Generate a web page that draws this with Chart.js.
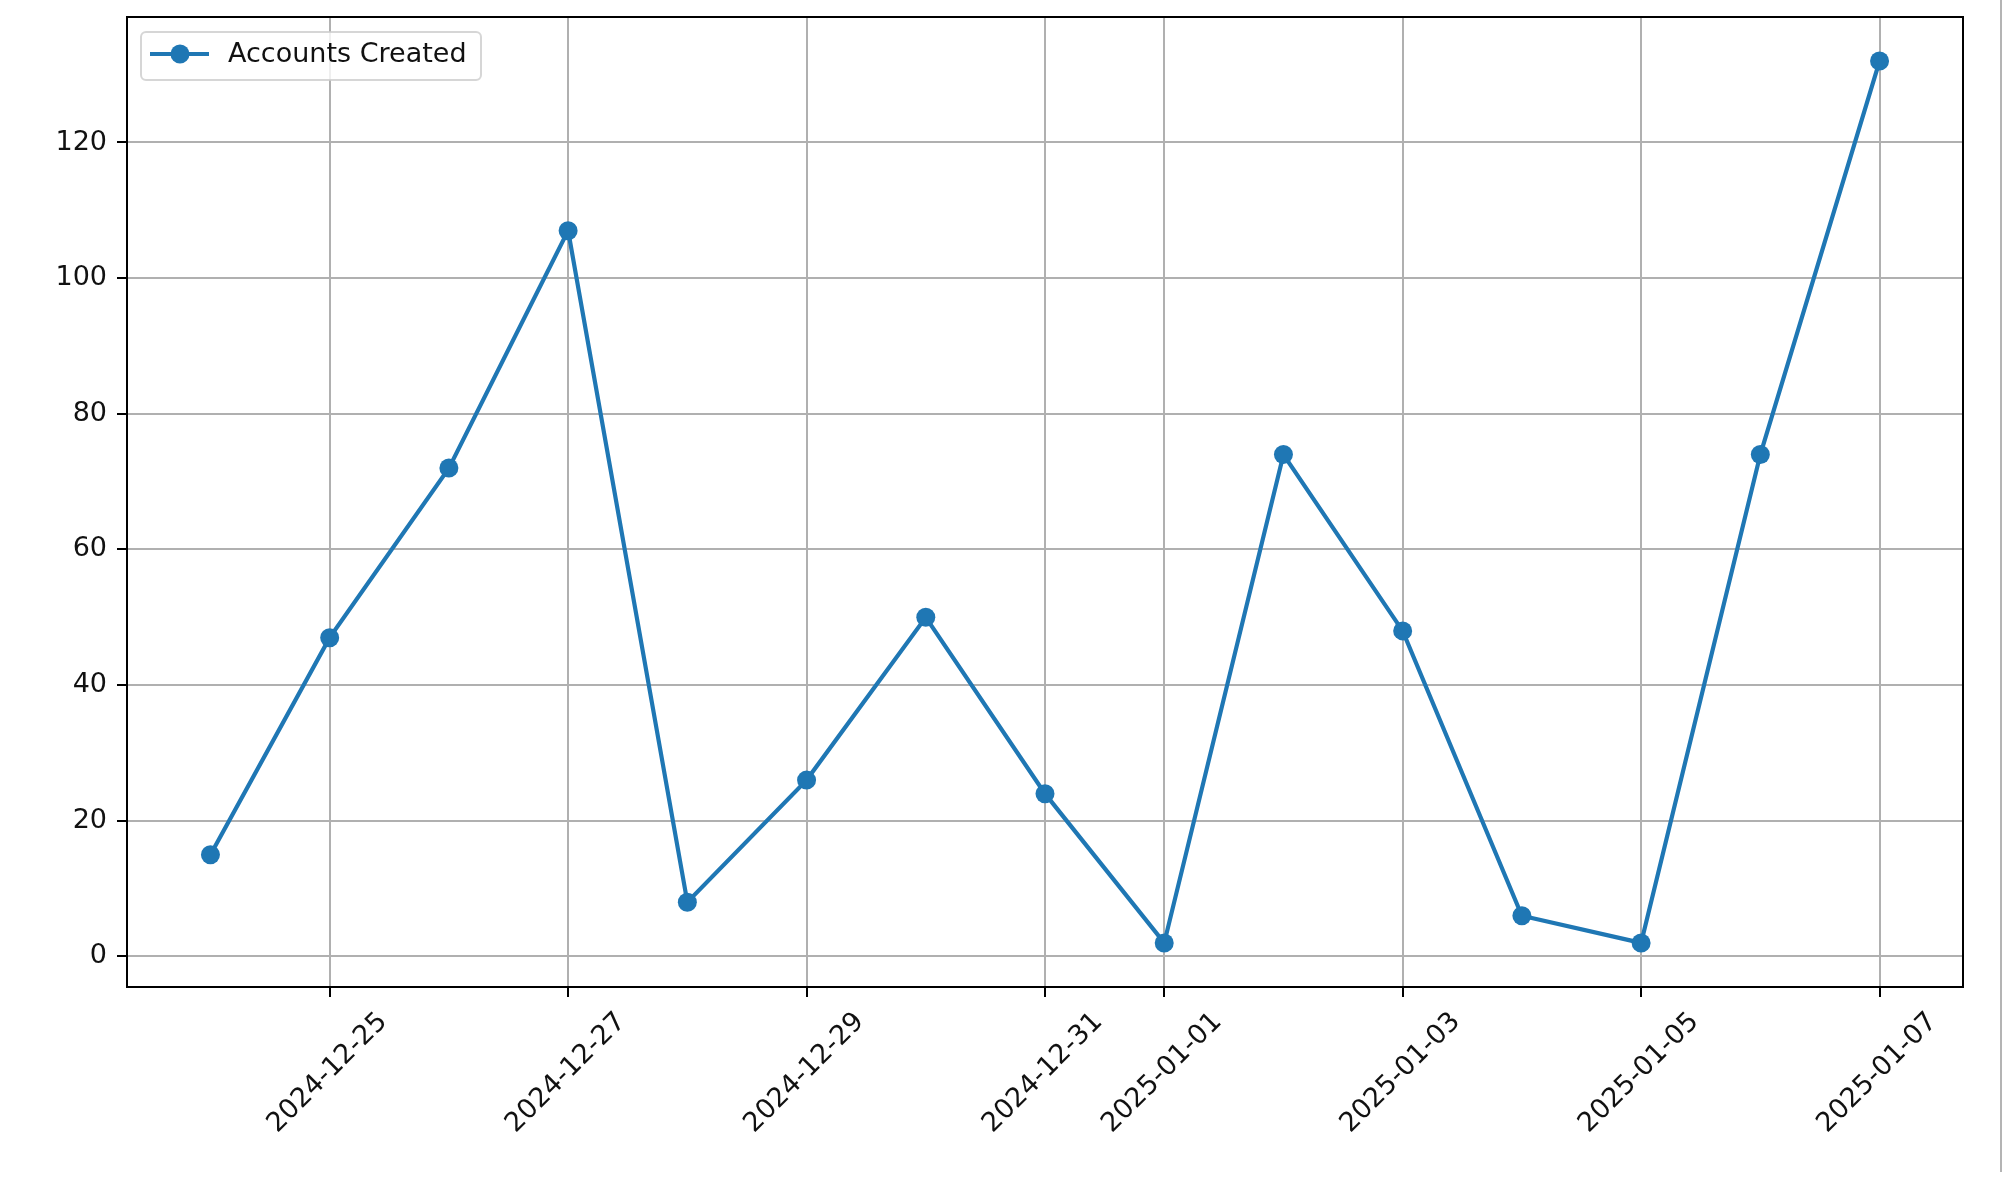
<!DOCTYPE html>
<html><head><meta charset="utf-8">
<script src="https://cdn.jsdelivr.net/npm/chart.js@4.4.1/dist/chart.umd.min.js"></script>
<style>
html,body{margin:0;padding:0;background:#fff;overflow:hidden}
#wrap{position:relative;width:2016px;height:1178px}
#edge{position:absolute;left:2000px;top:0;width:2px;height:1172px;background:#b4b4b4}
</style></head><body>
<div id="wrap"><canvas id="c" width="2016" height="1178"></canvas><div id="edge"></div></div>
<script>
const categories = ['2024-12-24','2024-12-25','2024-12-26','2024-12-27','2024-12-28','2024-12-29','2024-12-30','2024-12-31','2025-01-01','2025-01-02','2025-01-03','2025-01-04','2025-01-05','2025-01-06','2025-01-07'];
const accountsCreated = [15,47,72,107,8,26,50,24,2,74,48,6,2,74,132];
const xTickLabels = ['2024-12-25','2024-12-27','2024-12-29','2024-12-31','2025-01-01','2025-01-03','2025-01-05','2025-01-07'];
const yTickValues = [0,20,40,60,80,100,120];
const seriesLabel = 'Accounts Created';

const FONT = "'DejaVu Sans', sans-serif";
const FS = 27;
const TXT = '#111';
const BLUE = '#1f77b4';
const points = categories.map((d,i)=>({x:i,y:accountsCreated[i]}));
const xTickValues = xTickLabels.map(l=>categories.indexOf(l));

const decor = {
  id:'decor',
  afterDraw(chart){
    const ctx = chart.ctx, a = chart.chartArea, xs = chart.scales.x;
    ctx.save();
    ctx.strokeStyle='#000'; ctx.lineWidth=2;
    ctx.strokeRect(a.left, a.top, a.right-a.left, a.bottom-a.top);
    ctx.fillStyle=TXT; ctx.font=FS+'px '+FONT;
    ctx.textAlign='center'; ctx.textBaseline='middle';
    xTickValues.forEach((v,i)=>{
      const px = xs.getPixelForValue(v);
      ctx.save();
      ctx.translate(px-2, a.bottom+86);
      ctx.rotate(-Math.PI/4);
      ctx.fillText(xTickLabels[i],0,0);
      ctx.restore();
    });
    const lx=141, ly=32, lw=340, lh=48, r=5;
    ctx.beginPath();
    ctx.moveTo(lx+r,ly); ctx.lineTo(lx+lw-r,ly); ctx.arcTo(lx+lw,ly,lx+lw,ly+r,r);
    ctx.lineTo(lx+lw,ly+lh-r); ctx.arcTo(lx+lw,ly+lh,lx+lw-r,ly+lh,r);
    ctx.lineTo(lx+r,ly+lh); ctx.arcTo(lx,ly+lh,lx,ly+lh-r,r);
    ctx.lineTo(lx,ly+r); ctx.arcTo(lx,ly,lx+r,ly,r); ctx.closePath();
    ctx.fillStyle='rgba(255,255,255,0.8)'; ctx.fill();
    ctx.strokeStyle='rgba(204,204,204,0.8)'; ctx.lineWidth=2; ctx.stroke();
    const my = 54;
    ctx.strokeStyle=BLUE; ctx.lineWidth=4.2;
    ctx.beginPath(); ctx.moveTo(150,my); ctx.lineTo(209,my); ctx.stroke();
    ctx.fillStyle=BLUE; ctx.beginPath(); ctx.arc(180,my,9.5,0,Math.PI*2); ctx.fill();
    ctx.fillStyle=TXT; ctx.textAlign='left'; ctx.textBaseline='middle';
    ctx.fillText(chart.data.datasets[0].label, 228, my+1);
    ctx.restore();
  }
};

new Chart(document.getElementById('c'), {
  type:'line',
  data:{datasets:[{
    label:seriesLabel, data:points,
    borderColor:BLUE, backgroundColor:BLUE, borderWidth:4.2,
    pointRadius:9.5, pointHoverRadius:9.5, pointBorderWidth:0,
    pointBackgroundColor:BLUE, tension:0, clip:false
  }]},
  options:{
    responsive:false, animation:false, devicePixelRatio:1,
    layout:{padding:{left:0,top:17,right:53,bottom:0}},
    plugins:{legend:{display:false}, tooltip:{enabled:false}},
    scales:{
      x:{
        type:'linear', min:-0.7, max:14.7,
        afterBuildTicks:s=>{ s.ticks = xTickValues.map(v=>({value:v})); },
        afterFit:s=>{ s.height = 191; s.paddingLeft = 0; s.paddingRight = 0; },
        ticks:{display:false},
        grid:{color:'#b0b0b0', lineWidth:2, drawTicks:true, tickLength:10, tickColor:'#000', tickWidth:2},
        border:{display:true, color:'#000', width:2}
      },
      y:{
        type:'linear', min:-4.5, max:138.5,
        afterBuildTicks:s=>{ s.ticks = yTickValues.map(v=>({value:v})); },
        afterFit:s=>{ s.width = 127; s.paddingTop = 0; s.paddingBottom = 0; },
        ticks:{font:{family:FONT,size:FS}, color:TXT, padding:10, callback:v=>String(v)},
        grid:{color:'#b0b0b0', lineWidth:2, drawTicks:true, tickLength:10, tickColor:'#000', tickWidth:2},
        border:{display:true, color:'#000', width:2}
      }
    }
  },
  plugins:[decor]
});
</script>
</body></html>
